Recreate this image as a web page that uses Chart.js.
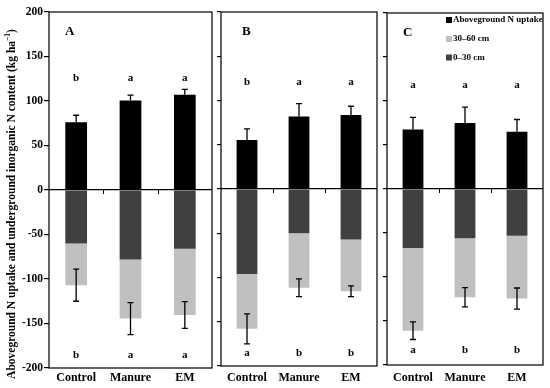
<!DOCTYPE html>
<html>
<head>
<meta charset="utf-8">
<script src="https://cdn.jsdelivr.net/npm/chart.js@4/dist/chart.umd.min.js"></script>
<style>
html,body{margin:0;padding:0;background:#fff;}
#wrap{position:relative;width:550px;height:388px;overflow:hidden;}
canvas{position:absolute;top:0;}
</style>
</head>
<body>
<div id="wrap">
<canvas id="cA" width="214" height="388" style="left:0px"></canvas>
<canvas id="cB" width="165" height="388" style="left:214px"></canvas>
<canvas id="cC" width="171" height="388" style="left:379px"></canvas>
</div>
<script>
// ---- categories & tick labels ----
const categories = ['Control', 'Manure', 'EM'];
const yTicks = [-200, -150, -100, -50, 0, 50, 100, 150, 200];
const seriesNames = ['Aboveground N uptake', '0\u201330 cm', '30\u201360 cm'];

// ---- Panel A ----
const aboveA = [76, 100.5, 107];
const aboveErrA = [8, 6, 6];
const soil030A = [-60, -78, -66];
const soil3060A = [-47, -66.5, -74.5];
const soilErrA = [18, 18, 15];
const lettersTopA = ['b', 'a', 'a'];
const lettersBotA = ['b', 'a', 'a'];

// ---- Panel B ----
const aboveB = [55.5, 82, 83.5];
const aboveErrB = [12.5, 14.5, 10];
const soil030B = [-96, -50, -57];
const soil3060B = [-62, -61.5, -58.5];
const soilErrB = [17, 10, 6];
const lettersTopB = ['b', 'a', 'a'];
const lettersBotB = ['a', 'b', 'b'];

// ---- Panel C ----
const aboveC = [67.5, 75, 65];
const aboveErrC = [14, 18, 14];
const soil030C = [-67, -56, -53];
const soil3060C = [-94, -67, -71.5];
const soilErrC = [10, 11, 12];
const lettersTopC = ['a', 'a', 'a'];
const lettersBotC = ['a', 'b', 'b'];

const yTitle = 'Aboveground N uptake and underground inorganic N content (kg ha';

const SERIF = "'Liberation Serif', 'Times New Roman', serif";
const COL_ABOVE = '#000000';
const COL_DARK = '#404040';
const COL_LIGHT = '#c0c0c0';

const panelPlugin = {
  id: 'panelExtras',
  afterDatasetsDraw(chart, args, opts) {
    const ctx = chart.ctx;
    const ys = chart.scales.y;
    const ca = chart.chartArea;
    const m0 = chart.getDatasetMeta(0);
    const d = chart.data.datasets;
    ctx.save();
    ctx.strokeStyle = '#000';
    ctx.lineWidth = 1.3;
    const cap = 3;
    // error bars
    m0.data.forEach((el, i) => {
      const v = d[0].data[i];
      const x = el.x;
      const y1 = ys.getPixelForValue(v);
      const y2 = ys.getPixelForValue(v + opts.aboveErr[i]);
      ctx.beginPath();
      ctx.moveTo(x, y1); ctx.lineTo(x, y2);
      ctx.moveTo(x - cap, y2); ctx.lineTo(x + cap, y2);
      ctx.stroke();
      const tot = d[1].data[i] + d[2].data[i];
      const yu = ys.getPixelForValue(tot + opts.soilErr[i]);
      const yl = ys.getPixelForValue(tot - opts.soilErr[i]);
      ctx.beginPath();
      ctx.moveTo(x, yu); ctx.lineTo(x, yl);
      ctx.moveTo(x - cap, yu); ctx.lineTo(x + cap, yu);
      ctx.moveTo(x - cap, yl); ctx.lineTo(x + cap, yl);
      ctx.stroke();
      // letters
      ctx.fillStyle = '#000';
      ctx.font = 'bold 11px ' + SERIF;
      ctx.textAlign = 'center';
      ctx.textBaseline = 'alphabetic';
      ctx.fillText(opts.top[i], x, ys.getPixelForValue(opts.topBase));
      ctx.fillText(opts.bot[i], x, ys.getPixelForValue(opts.botBase));
    });
    // zero line boundary ticks
    const y0 = ys.getPixelForValue(0);
    const n = chart.data.labels.length;
    const cw = (ca.right - ca.left) / n;
    ctx.lineWidth = 1;
    ctx.beginPath();
    for (let k = 1; k < n; k++) {
      const x = Math.round(ca.left + k * cw) + 0.5;
      ctx.moveTo(x, y0); ctx.lineTo(x, y0 + 4);
    }
    ctx.stroke();
    // panel letter
    ctx.font = 'bold 13px ' + SERIF;
    ctx.textAlign = 'left';
    ctx.textBaseline = 'middle';
    ctx.fillText(opts.panel, ca.left + opts.panelDx, ca.top + 20);
    // frame
    ctx.lineWidth = 1.3;
    ctx.strokeStyle = '#111';
    ctx.strokeRect(ca.left, ca.top, ca.right - ca.left, ca.bottom - ca.top);
    // legend
    if (opts.legend) {
      ctx.font = 'bold 9px ' + SERIF;
      ctx.textBaseline = 'middle';
      const order = [0, 2, 1];
      const ly = [20, 39, 57.5];
      order.forEach((di, k) => {
        const lx = ca.left + 59;
        ctx.fillStyle = d[di].backgroundColor;
        ctx.fillRect(lx, ly[k] - 3, 6, 6);
        ctx.fillStyle = '#000';
        ctx.fillText(d[di].label, lx + 7, ly[k]);
      });
    }
    // y axis title
    if (opts.yTitle) {
      ctx.save();
      ctx.translate(12, 204);
      ctx.rotate(-Math.PI / 2);
      ctx.fillStyle = '#000';
      ctx.textBaseline = 'middle';
      ctx.textAlign = 'left';
      const f1 = 'bold 11.5px ' + SERIF;
      const f2 = 'bold 7.5px ' + SERIF;
      ctx.font = f1;
      const w1 = ctx.measureText(opts.yTitle).width;
      ctx.font = f2;
      const w2 = ctx.measureText('\u22121').width;
      ctx.font = f1;
      const w3 = ctx.measureText(')').width;
      const start = -(w1 + w2 + w3) / 2;
      ctx.fillText(opts.yTitle, start, 0);
      ctx.font = f2;
      ctx.fillText('\u22121', start + w1, -4);
      ctx.font = f1;
      ctx.fillText(')', start + w1 + w2, 0);
      ctx.restore();
    }
    ctx.restore();
  }
};

function makePanel(id, cfg) {
  return new Chart(document.getElementById(id), {
    type: 'bar',
    data: {
      labels: categories,
      datasets: [
        { label: seriesNames[0], data: cfg.above, backgroundColor: COL_ABOVE },
        { label: seriesNames[1], data: cfg.soil030, backgroundColor: COL_DARK },
        { label: seriesNames[2], data: cfg.soil3060, backgroundColor: COL_LIGHT }
      ]
    },
    options: {
      responsive: false,
      animation: false,
      devicePixelRatio: 1,
      layout: { padding: { top: cfg.top, right: cfg.padRight, left: 0, bottom: 0 } },
      datasets: { bar: { barPercentage: 0.4, categoryPercentage: 1, borderWidth: 0 } },
      plugins: {
        legend: { display: false },
        tooltip: { enabled: false },
        panelExtras: {
          aboveErr: cfg.aboveErr, soilErr: cfg.soilErr,
          top: cfg.lettersTop, bot: cfg.lettersBot,
          topBase: cfg.topBase, botBase: cfg.botBase,
          panel: cfg.panel, panelDx: cfg.panelDx,
          legend: cfg.legend, yTitle: cfg.yTitle
        }
      },
      scales: {
        x: {
          stacked: true,
          grid: { display: false, drawTicks: false },
          border: { display: false },
          ticks: { color: '#000', font: { family: SERIF, size: 12, weight: 'bold' }, padding: 3 + cfg.xShift, maxRotation: 0 },
          afterFit: s => { s.height = cfg.xH; }
        },
        y: {
          stacked: true,
          min: -200, max: 200,
          afterBuildTicks: s => { s.ticks = yTicks.map(v => ({ value: v })); },
          grid: {
            drawTicks: true,
            tickLength: cfg.tickLen,
            tickColor: '#000',
            lineWidth: 1.2,
            color: c => (c.tick && c.tick.value === 0) ? '#000' : 'rgba(0,0,0,0)'
          },
          border: { display: false },
          ticks: {
            display: cfg.showTicks,
            color: '#000', padding: 1,
            font: { family: SERIF, size: 11.5, weight: 'bold' }
          },
          afterFit: s => { s.width = cfg.yW; }
        }
      }
    },
    plugins: [panelPlugin]
  });
}

makePanel('cA', {
  above: aboveA, aboveErr: aboveErrA, soil030: soil030A, soil3060: soil3060A, soilErr: soilErrA,
  lettersTop: lettersTopA, lettersBot: lettersBotA, topBase: 122, botBase: -189,
  panel: 'A', panelDx: 16, legend: false, yTitle: yTitle,
  top: 12, padRight: 2, yW: 49, xH: 20, xShift: 0, tickLen: 5, showTicks: true
});
makePanel('cB', {
  above: aboveB, aboveErr: aboveErrB, soil030: soil030B, soil3060: soil3060B, soilErr: soilErrB,
  lettersTop: lettersTopB, lettersBot: lettersBotB, topBase: 118, botBase: -189,
  panel: 'B', panelDx: 21, legend: false, yTitle: null,
  top: 12, padRight: 2, yW: 7, xH: 22, xShift: 2, tickLen: 4, showTicks: false
});
makePanel('cC', {
  above: aboveC, aboveErr: aboveErrC, soil030: soil030C, soil3060: soil3060C, soilErr: soilErrC,
  lettersTop: lettersTopC, lettersBot: lettersBotC, topBase: 115, botBase: -186,
  panel: 'C', panelDx: 16, legend: true, yTitle: null,
  top: 13, padRight: 7, yW: 8, xH: 23, xShift: 3, tickLen: 4, showTicks: false
});
</script>
</body>
</html>
